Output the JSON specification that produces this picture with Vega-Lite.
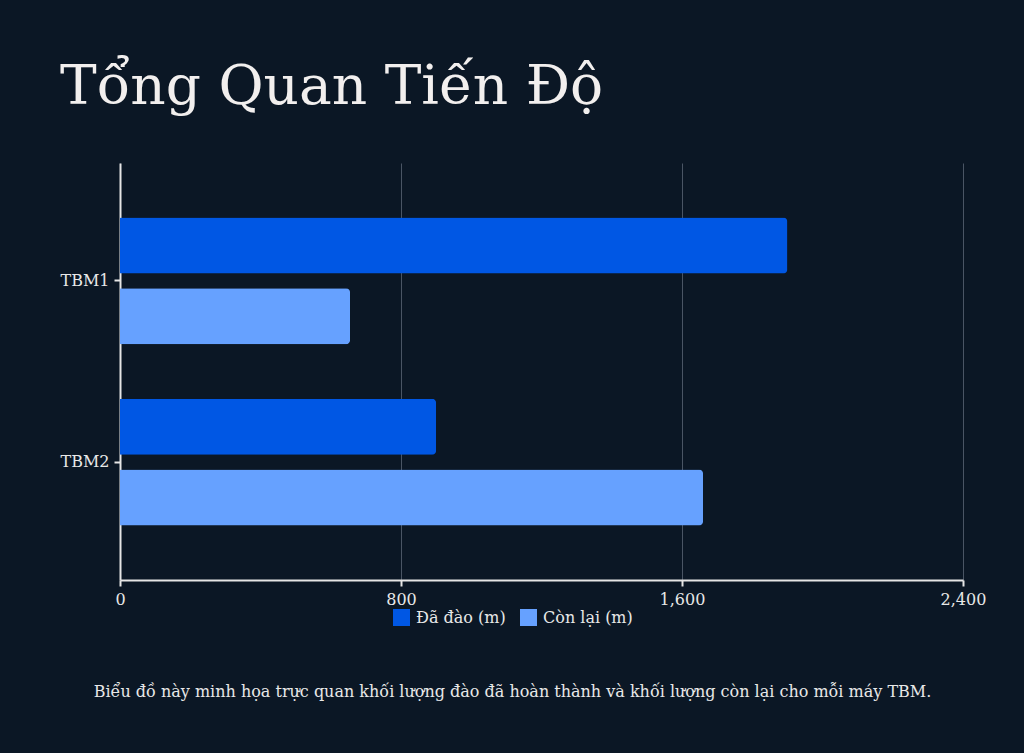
{
  "$schema": "https://vega.github.io/schema/vega-lite/v6.json",
  "width": 843,
  "height": 417,
  "autosize": {"type": "none"},
  "padding": {"left": 120, "top": 163, "right": 61, "bottom": 173},
  "background": "#0b1725",
  "title": {
    "text": "Tổng Quan Tiến Độ",
    "anchor": "start",
    "offset": 4,
    "baseline": "alphabetic",
    "font": "DejaVu Serif",
    "fontSize": 55,
    "fontWeight": "normal",
    "color": "#f2efee"
  },
  "data": {
    "values": [
      {"tbm": "TBM1", "loai": "Đã đào (m)", "met": 1900},
      {"tbm": "TBM1", "loai": "Còn lại (m)", "met": 655},
      {"tbm": "TBM2", "loai": "Đã đào (m)", "met": 900},
      {"tbm": "TBM2", "loai": "Còn lại (m)", "met": 1660}
    ]
  },
  "mark": {"type": "bar", "cornerRadiusEnd": 4},
  "encoding": {
    "y": {
      "field": "tbm",
      "type": "nominal",
      "title": null,
      "scale": {"paddingInner": 0.3, "paddingOuter": 0.3},
      "axis": {"grid": false}
    },
    "yOffset": {
      "field": "loai",
      "type": "nominal",
      "sort": ["Đã đào (m)", "Còn lại (m)"],
      "scale": {"paddingInner": 0.21, "paddingOuter": 0}
    },
    "x": {
      "field": "met",
      "type": "quantitative",
      "scale": {"domain": [0, 2400]},
      "title": "Biểu đồ này minh họa trực quan khối lượng đào đã hoàn thành và khối lượng còn lại cho mỗi máy TBM.",
      "axis": {
        "values": [0, 800, 1600, 2400],
        "format": ",d",
        "grid": true,
        "labelFlush": false,
        "titlePadding": 76,
        "titleX": 392,
        "titleAlign": "center"
      }
    },
    "color": {
      "field": "loai",
      "type": "nominal",
      "sort": ["Đã đào (m)", "Còn lại (m)"],
      "scale": {"domain": ["Đã đào (m)", "Còn lại (m)"], "range": ["#0057e4", "#66a1ff"]},
      "legend": {
        "title": null,
        "orient": "none",
        "direction": "horizontal",
        "legendX": 273,
        "legendY": 446
      }
    }
  },
  "config": {
    "view": {"stroke": null},
    "axis": {
      "domainColor": "#e6e6e6",
      "domainWidth": 2,
      "tickColor": "#e6e6e6",
      "tickWidth": 2,
      "tickSize": 6,
      "labelPadding": 5,
      "labelFont": "DejaVu Serif",
      "labelFontSize": 16,
      "labelColor": "#e8e8e8",
      "gridColor": "#4a5564",
      "gridWidth": 1,
      "titleFont": "DejaVu Serif",
      "titleFontSize": 16,
      "titleFontWeight": "normal",
      "titleColor": "#e8e8e8"
    },
    "legend": {
      "padding": 0,
      "symbolType": "square",
      "symbolSize": 289,
      "symbolStrokeWidth": 0,
      "symbolOpacity": 1,
      "labelFont": "DejaVu Serif",
      "labelFontSize": 16,
      "labelColor": "#e8e8e8",
      "labelOffset": 6,
      "columnPadding": 14
    }
  }
}
